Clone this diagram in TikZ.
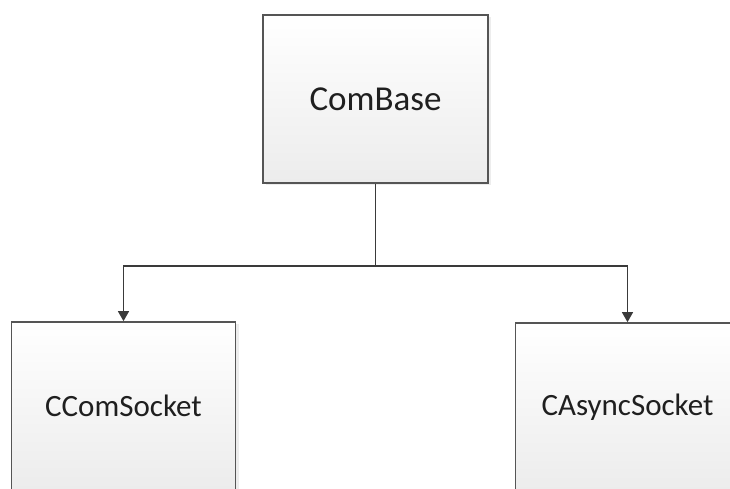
\documentclass[tikz,border=0pt]{standalone}
\usepackage{fontspec}
\setmainfont{Carlito}
\usetikzlibrary{arrows.meta,shadows}
\definecolor{edgegray}{HTML}{555555}
\definecolor{linegray}{HTML}{3A3A3A}
\definecolor{fillbottom}{HTML}{ECECEC}
\tikzset{
  classbox/.style={draw=edgegray, line width=1.7pt, rectangle,
    minimum width=224pt, minimum height=168pt, inner sep=0pt,
    top color=white, bottom color=fillbottom, text=black!88,
    drop shadow={shadow xshift=3pt, shadow yshift=-2pt, opacity=0.07, fill=black}},
  link/.style={draw=linegray, line width=1.3pt,
    -{Triangle[length=10pt,width=11pt]}}
}
\begin{document}
\begin{tikzpicture}[x=1pt,y=-1pt]
  \useasboundingbox (0,0) rectangle (730,488);
  \clip (0,0) rectangle (730,488);
  \fill[white] (0,0) rectangle (730,488);
  % base class
  \node[classbox, minimum width=225pt, font=\fontsize{35}{40}\selectfont] (base) at (375.5,99) {ComBase};
  % derived classes
  \node[classbox, font=\fontsize{31}{36}\selectfont] (left) at (123.5,406) {CComSocket};
  \node[classbox, font=\fontsize{31}{36}\selectfont] (right) at (627.5,407) {CAsyncSocket};
  % branching point of the inheritance tree
  \coordinate (split) at (375.5,266);
  \draw[link] (base.south) -- (split) -| (left.north);
  \draw[link] (split) -| (right.north);
\end{tikzpicture}
\end{document}
